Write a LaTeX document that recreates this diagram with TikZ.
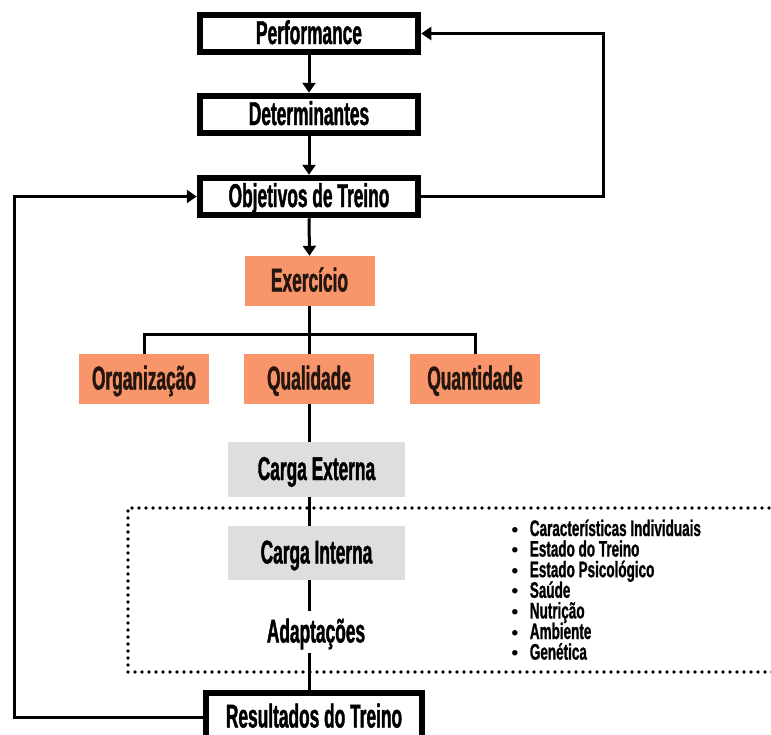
\documentclass[tikz,border=0pt]{standalone}
\usepackage{fontspec}
\setmainfont{Liberation Sans}
\newfontfamily\mainf{Liberation Sans}[FakeStretch=0.525, FakeBold=1.2]
\newfontfamily\listf{Liberation Sans}[FakeStretch=0.6, FakeBold=0.9]
\newfontfamily\plainf{Liberation Sans}
\usetikzlibrary{arrows.meta,calc}
\definecolor{orng}{HTML}{F8956B}
\definecolor{gry}{HTML}{DEDEDE}
\definecolor{txtd}{HTML}{24160F}
\begin{document}
\begin{tikzpicture}[x=1pt,y=-1pt,
  bigfont/.style={font=\mainf\fontsize{33}{35}\selectfont\bfseries, text height=23pt, text depth=2pt},
  framebox/.style={draw, line width=6.5pt, fill=white, minimum width=218pt, minimum height=37pt, inner sep=0pt, bigfont},
  obox/.style={fill=orng, minimum width=130pt, minimum height=50pt, inner sep=0pt, bigfont, text=txtd},
  gbox/.style={fill=gry, minimum width=177pt, minimum height=55pt, inner sep=0pt, bigfont},
  plaintext/.style={bigfont, inner sep=8pt},
  listitem/.style={font=\listf\fontsize{22.5}{24}\selectfont\bfseries, inner sep=0pt, anchor=base west},
  conn/.style={line width=3pt},
  arr/.style={conn, -{Triangle[width=13pt,length=10pt]}},
  dotline/.style={line width=3.8pt, line cap=round, dash pattern=on 0pt off 7pt}
]
\useasboundingbox (0,0) rectangle (771,734);
\fill[white] (0,0) rectangle (771,734);

% dotted frame
\draw[dotline] (776,508) -- (128,508) -- (128,672) -- (776,672);

% framed boxes
\node[framebox] (perf) at (309,33.5) {Performance};
\node[framebox] (det) at (309,114.5) {Determinantes};
\node[framebox] (obj) at (309,196.5) {Objetivos de Treino};
\node[framebox, minimum width=216pt, minimum height=48pt] (res) at (314,717) {Resultados do Treino};

% orange boxes
\node[obox] (exer) at (309.5,281) {Exercício};
\node[obox] (org) at (144,379) {Organização};
\node[obox] (qual) at (309,379) {Qualidade};
\node[obox] (quant) at (475,379) {Quantidade};

% grey boxes
\node[gbox] (ce) at (316.5,469.5) {Carga Externa};
\node[gbox, minimum height=54pt] (ci) at (316.5,553) {Carga Interna};
\node[plaintext] (adapt) at (316,632) {Adaptações};

% list
\foreach \t [count=\i from 0] in {Características Individuais, Estado do Treino, Estado Psicológico, Saúde, Nutrição, Ambiente, Genética}
  \node[listitem] (item\i) at (511.5,{536+20.6*\i}) {{\plainf\fontsize{19}{21}\selectfont •}\hspace{11.5pt}\t};

% helper coordinates
\coordinate (rgt) at (603,0);
\coordinate (lft) at (14,0);
\coordinate (bar) at (0,334);

% arrows
\draw[arr] (perf.south) -- (det.north);
\draw[arr] (det.south) -- (obj.north);
\draw[arr] (obj.south) -- (exer.north);
\draw[arr] (obj.east) -- (obj.east -| rgt) -- (perf.east -| rgt) -- (perf.east);
\draw[arr] (res.west) -- (res.west -| lft) -- (obj.west -| lft) -- (obj.west);

% tree
\draw[conn] (exer.south) -- (exer.south |- bar);
\draw[conn] (org.north) -- (org.north |- bar) -- (quant.north |- bar) -- (quant.north);
\draw[conn] (qual.north) -- (qual.north |- bar);

% column
\draw[conn] (qual.south) -- (qual.south |- ce.north);
\draw[conn] (qual.south |- ce.south) -- (qual.south |- ci.north);
\draw[conn] (qual.south |- ci.south) -- (qual.south |- adapt.north);
\draw[conn] (qual.south |- adapt.south) -- (qual.south |- res.north);
\end{tikzpicture}
\end{document}
